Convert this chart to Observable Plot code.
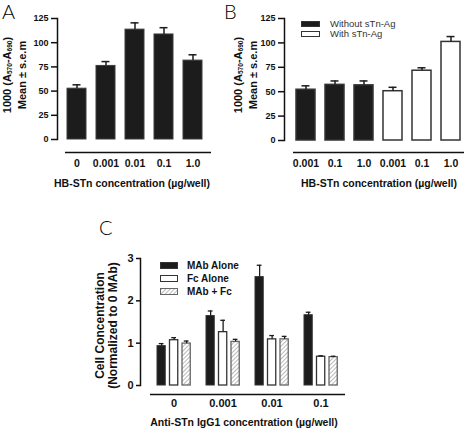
<!DOCTYPE html>
<html><head><meta charset="utf-8">
<script src="https://cdn.jsdelivr.net/npm/d3@7"></script>
<script src="https://cdn.jsdelivr.net/npm/@observablehq/plot@0.6"></script>
<style>
body{margin:0;background:#fff;}
#fig{position:relative;width:464px;height:429px;overflow:hidden;background:#fff;font-family:"Liberation Sans",Arial,Helvetica,sans-serif;color:#111;}
.plot{position:absolute;}
.letter{position:absolute;font-family:Lato,"DejaVu Sans",sans-serif;font-weight:300;font-size:20px;line-height:20px;color:#000;}
.ytitle{position:absolute;transform:rotate(-90deg);white-space:nowrap;font-weight:bold;text-align:center;}
.ytitle sub{font-size:0.6em;vertical-align:-0.1em;}
.xtitle{position:absolute;font-weight:bold;font-size:10.5px;line-height:12px;white-space:nowrap;transform:translate(-50%,-50%);}
.sw{position:absolute;box-sizing:border-box;}
.lt{position:absolute;white-space:nowrap;}
</style>
</head><body>
<svg width="0" height="0" style="position:absolute">
  <defs>
    <pattern id="hatch" patternUnits="userSpaceOnUse" width="3" height="3" patternTransform="rotate(45)">
      <rect width="3" height="3" fill="#fff"></rect>
      <line x1="0" y1="0" x2="0" y2="3" stroke="#8a8a8a" stroke-width="1.2"></line>
    </pattern>
  </defs>
</svg>
<div id="fig"></div>
<script>
// ---------- data ----------
const aLabels = ["0","0.001","0.01","0.1","1.0"];
const aMeans  = [52.5, 76, 113.5, 108.5, 81.5];
const aUpper  = [56.5, 80.5, 120.5, 115.5, 87.5];

const bLabels = ["0.001","0.1","1.0","0.001","0.1","1.0"];
const bGroups = ["Without sTn-Ag","Without sTn-Ag","Without sTn-Ag","With sTn-Ag","With sTn-Ag","With sTn-Ag"];
const bMeans  = [52, 57, 56.5, 50.5, 71.5, 101];
const bUpper  = [56, 61, 61, 54.5, 74.5, 106.5];

const cGroups = ["0","0.001","0.01","0.1"];
const cSeries = ["MAb Alone","Fc Alone","MAb + Fc"];
const cMAb    = [0.93, 1.64, 2.56, 1.66];
const cMAbUp  = [0.99, 1.76, 2.84, 1.73];
const cFc     = [1.07, 1.26, 1.09, 0.68];
const cFcUp   = [1.13, 1.54, 1.18, 0.70];
const cMix    = [0.99, 1.03, 1.09, 0.67];
const cMixUp  = [1.05, 1.09, 1.16, 0.69];

const yTicksAB = [0, 25, 50, 75, 100, 125];
const yTicksC  = [0, 1, 2, 3];

const yTitleAB = ["1000 (A<sub>570</sub>-A<sub>690</sub>)", "Mean \u00b1 s.e.m"];
const xTitleAB = "HB-STn concentration (\u00b5g/well)";
const yTitleC  = ["Cell Concentration", "(Normalized to 0 MAb)"];
const xTitleC  = "Anti-STn IgG1 concentration (\u00b5g/well)";

// ---------- helpers ----------
const FONT = "'Liberation Sans', Arial, Helvetica, sans-serif";
const BLACK = "#1c1c1c";
const fig = document.getElementById("fig");
function place(el, left, top){ el.classList.add("plot"); el.style.left = left+"px"; el.style.top = top+"px"; fig.appendChild(el); }
function html(cls, style, inner){ const d = document.createElement("div"); d.className = cls; Object.assign(d.style, style); d.innerHTML = inner; fig.appendChild(d); return d; }
function yTitle(lines, cx, cy, w, fs, lh){
  html("ytitle", {left:(cx - w/2)+"px", top:(cy - lh*lines.length/2)+"px", width:w+"px", height:(lh*lines.length)+"px", fontSize:fs+"px", lineHeight:lh+"px"}, lines.join("<br>"));
}
function xTitle(text, cx, cy){ html("xtitle", {left:cx+"px", top:cy+"px"}, text); }

// ---------- Panel A ----------
const aData = aLabels.map((k,i)=>({k, v:aMeans[i], e:aUpper[i]}));
const plotA = Plot.plot({
  width: 232, height: 200, marginLeft: 57, marginRight: 20, marginTop: 18, marginBottom: 61,
  style: {fontFamily: FONT, background: "transparent", overflow: "visible", color: "#111"},
  x: {domain: aLabels, paddingInner: 0.35, paddingOuter: 0.31},
  y: {domain: [0, 125]},
  marks: [
    Plot.barY(aData, {x: "k", y: "v", fill: BLACK, stroke: "#3c3c3c", strokeWidth: 1}),
    Plot.ruleX(aData, {x: "k", y1: "v", y2: "e", stroke: BLACK, strokeWidth: 1.5}),
    Plot.tickY(aData, {x: "k", y: "e", stroke: BLACK, strokeWidth: 1.5, insetLeft: 5.5, insetRight: 5.5}),
    Plot.frame({anchor: "left", stroke: "#111", strokeWidth: 1.5}),
    Plot.axisY({ticks: yTicksAB, tickSize: 6, tickPadding: 3, fontSize: 9, fontWeight: "bold", label: null, strokeWidth: 1.5, tickFormat: d => String(d)}),
    Plot.ruleY([0], {dy: 13, insetLeft: 8, insetRight: 1, stroke: "#111", strokeWidth: 1.5}),
    Plot.axisX({tickSize: 0, tickPadding: 20, fontSize: 10.5, fontWeight: "bold", label: null})
  ]
});
place(plotA, 0, 0);

// ---------- Panel B ----------
const bData = bLabels.map((k,i)=>({i, k, g: bGroups[i], v: bMeans[i], e: bUpper[i]}));
const bGroupNames = Array.from(new Set(bGroups));
const plotB = Plot.plot({
  width: 240, height: 200, marginLeft: 52, marginRight: 0, marginTop: 18, marginBottom: 60,
  style: {fontFamily: FONT, background: "transparent", overflow: "visible", color: "#111"},
  x: {domain: d3.range(bLabels.length), paddingInner: 0.35, paddingOuter: 0.34},
  y: {domain: [0, 125]},
  color: {domain: bGroupNames, range: [BLACK, "#ffffff"]},
  marks: [
    Plot.barY(bData, {x: "i", y: "v", fill: "g", stroke: "#333", strokeWidth: 1.5}),
    Plot.ruleX(bData, {x: "i", y1: "v", y2: "e", stroke: BLACK, strokeWidth: 1.5}),
    Plot.tickY(bData, {x: "i", y: "e", stroke: BLACK, strokeWidth: 1.5, insetLeft: 5.5, insetRight: 5.5}),
    Plot.frame({anchor: "left", stroke: "#111", strokeWidth: 1.5}),
    Plot.axisY({ticks: yTicksAB, tickSize: 6, tickPadding: 3, fontSize: 9, fontWeight: "bold", label: null, strokeWidth: 1.5, tickFormat: d => String(d)}),
    Plot.ruleY([0], {dy: 12, insetLeft: 9, insetRight: 0, stroke: "#111", strokeWidth: 1.5}),
    Plot.axisX({tickSize: 0, tickPadding: 19, fontSize: 10.5, fontWeight: "bold", label: null, tickFormat: i => bLabels[i]})
  ]
});
place(plotB, 232, 0);

// ---------- Panel C ----------
const C_LEFT = 140, C_W = 360, C_RIGHT = 7;
const cPadIn = 0.334, cPadOut = 0.3;
const cBW = d3.scaleBand(cGroups, [C_LEFT, C_W - C_RIGHT]).paddingInner(cPadIn).paddingOuter(cPadOut).bandwidth();
const barW = 8.5, barStep = 12.5;
const cVals = [cMAb, cFc, cMix], cUps = [cMAbUp, cFcUp, cMixUp];
const cFills = [BLACK, "#ffffff", "url(#hatch)"];
const cStrokes = ["#333", "#333", "#666"];
const cMarks = [];
cSeries.forEach((s, si) => {
  const data = cGroups.map((g, gi) => ({g, v: cVals[si][gi], e: cUps[si][gi]}));
  const il = si*barStep, ir = cBW - si*barStep - barW;
  cMarks.push(Plot.barY(data, {x: "g", y: "v", fill: cFills[si], stroke: cStrokes[si], strokeWidth: si === 0 ? 1 : 1.3, insetLeft: il, insetRight: ir}));
  cMarks.push(Plot.ruleX(data, {x: "g", y1: "v", y2: "e", dx: il + barW/2 - cBW/2, stroke: BLACK, strokeWidth: 1.3}));
  cMarks.push(Plot.tickY(data, {x: "g", y: "e", stroke: BLACK, strokeWidth: 1.3, insetLeft: il + 1.75, insetRight: ir + 1.75}));
});
const plotC = Plot.plot({
  width: C_W, height: 214, marginLeft: C_LEFT, marginRight: C_RIGHT, marginTop: 43, marginBottom: 44,
  style: {fontFamily: FONT, background: "transparent", overflow: "visible", color: "#111"},
  x: {domain: cGroups, paddingInner: cPadIn, paddingOuter: cPadOut},
  y: {domain: [0, 3]},
  marks: [
    ...cMarks,
    Plot.frame({anchor: "left", stroke: "#111", strokeWidth: 1.5}),
    Plot.axisY({ticks: yTicksC, tickSize: 4, tickPadding: 3, fontSize: 11, fontWeight: "bold", label: null, strokeWidth: 1.5, tickFormat: d => String(d)}),
    Plot.ruleY([0], {dy: 9, insetLeft: 10, insetRight: 8, stroke: "#111", strokeWidth: 1.5}),
    Plot.axisX({tickSize: 0, tickPadding: 14, fontSize: 11, fontWeight: "bold", label: null})
  ]
});
place(plotC, 0, 215);

// ---------- titles ----------
yTitle(yTitleAB, 13.5, 75, 110, 11, 13);
yTitle(yTitleAB, 244.5, 75, 110, 11, 13);
yTitle(yTitleC, 106, 325, 150, 12, 12.5);
xTitle(xTitleAB, 132, 183);
xTitle(xTitleAB, 379, 183);
xTitle(xTitleC, 244, 422);

// panel letters
html("letter", {left: "2px", top: "1px"}, "A");
html("letter", {left: "224px", top: "1px"}, "B");
html("letter", {left: "99px", top: "217px"}, "C");

// ---------- legends ----------
bGroupNames.forEach((g, i) => {
  const top = 21 + i*10;
  html("sw", {left: "301px", top: top+"px", width: "19px", height: "6px",
    background: i === 0 ? BLACK : "#fff", border: "1px solid #333"}, "");
  html("lt", {left: "330px", top: (top - 2.5)+"px", fontSize: "9.5px", lineHeight: "10px", color: "#333"}, g);
});
cSeries.forEach((s, i) => {
  const top = 262 + i*13;
  const sw = html("sw", {left: "160px", top: top+"px", width: "18px", height: "7px",
    background: i === 0 ? BLACK : "#fff", border: "1px solid " + (i === 2 ? "#666" : "#333")}, "");
  if (i === 2) sw.innerHTML = '<svg width="16" height="5" style="display:block"><rect width="16" height="5" fill="url(#hatch)"/></svg>';
  html("lt", {left: "187px", top: (top - 1.5)+"px", fontSize: "10px", lineHeight: "10px", fontWeight: "bold", color: "#111"}, s);
});
</script>
</body></html>
